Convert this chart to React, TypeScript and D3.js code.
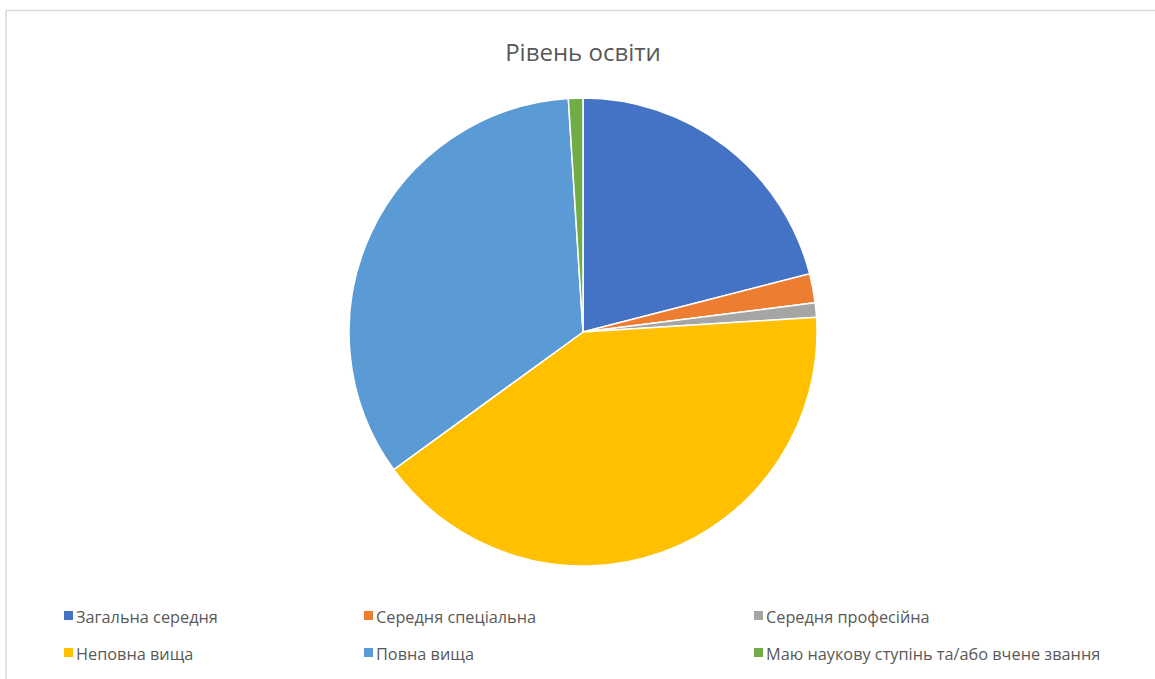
import React from "react";
import * as d3 from "d3";

const categories = [
  "Загальна середня",
  "Середня спеціальна",
  "Середня професійна",
  "Неповна вища",
  "Повна вища",
  "Маю наукову ступінь та/або вчене звання",
];
const values = [21, 2, 1, 41, 34, 1];
const colors = ["#4472C4", "#ED7D31", "#A5A5A5", "#FFC000", "#5B9BD5", "#70AD47"];
const legendLabels = [
  "Загальна середня",
  "Середня спеціальна",
  "Середня професійна",
  "Неповна вища",
  "Повна вища",
  "Маю наукову ступінь та/або вчене звання",
];
const title = "Рівень освіти";

export default function App() {
  const W = 1155;
  const H = 679;
  const cx = 583;
  const cy = 332;
  const r = 234;
  const pie = d3.pie<number>().sort(null).value((d) => d);
  const arcs = pie(values);
  const arc = d3.arc<d3.PieArcDatum<number>>().innerRadius(0).outerRadius(r);
  const colX = d3.scaleOrdinal<number, number>().domain([0, 1, 2]).range([64, 364, 754]);
  const rowY = d3.scaleOrdinal<number, number>().domain([0, 1]).range([611, 648]);
  const font = "'Open Sans', 'Noto Sans', sans-serif";
  return (
    <svg
      width={W}
      height={H}
      style={{ position: "absolute", left: 0, top: 0, display: "block" }}
    >
      <rect x={0} y={0} width={W} height={H} fill="#fff" />
      <rect x={6} y={10.5} width={W + 20} height={H + 20} fill="#fff" stroke="#d9d9d9" strokeWidth={1.5} />
      <text
        x={cx}
        y={61}
        textAnchor="middle"
        fontFamily={font}
        fontSize={24}
        fill="#595959"
      >
        {title}
      </text>
      <g transform={`translate(${cx},${cy})`}>
        {arcs.map((a, i) => (
          <path key={categories[i]} d={arc(a) || ""} fill={colors[i]} stroke="#fff" strokeWidth={1.5} />
        ))}
      </g>
      {legendLabels.map((lab, i) => {
        const col = i % 3;
        const row = Math.floor(i / 3);
        const x = colX(col);
        const y = rowY(row);
        return (
          <g key={lab}>
            <rect x={x} y={y} width={9} height={9} fill={colors[i]} />
            <text x={x + 12} y={y + 12} fontFamily={font} fontSize={16.3} fill="#595959">
              {lab}
            </text>
          </g>
        );
      })}
    </svg>
  );
}
